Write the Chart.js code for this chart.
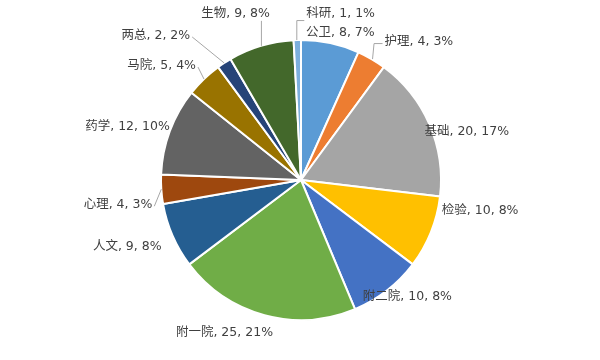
<!DOCTYPE html>
<html>
<head>
<meta charset="utf-8">
<script src="https://cdn.jsdelivr.net/npm/chart.js@4.4.0/dist/chart.umd.min.js"></script>
<style>
html,body{margin:0;padding:0;background:#fff;}
#wrap{width:600px;height:360px;}
</style>
</head>
<body>
<div id="wrap"><canvas id="c" width="600" height="360"></canvas></div>
<script>
const categories = ['公卫','护理','基础','检验','附二院','附一院','人文','心理','药学','马院','两总','生物','科研'];
const values = [8,4,20,10,10,25,9,4,12,5,2,9,1];
const colors = ['#5B9BD5','#ED7D31','#A5A5A5','#FFC000','#4472C4','#70AD47','#255E91','#9E480E','#636363','#997300','#264478','#43682B','#7CAFDD'];

// label layout: alignment and offset from the slice's outer edge midpoint, leader line type
const labelLayout = [
  {align:'center', dx:10,  dy:-10, leader:null},
  {align:'left',   dx:13,  dy:-17, leader:'elbowUp'},
  {align:'left',   dx:-5,  dy:7,   leader:null},
  {align:'left',   dx:11,  dy:-22, leader:null},
  {align:'left',   dx:-24, dy:6,   leader:null},
  {align:'center', dx:-40, dy:18,  leader:null},
  {align:'right',  dx:-11, dy:11,  leader:null},
  {align:'right',  dx:-9,  dy:16,  leader:'straight'},
  {align:'right',  dx:0,   dy:-4,  leader:null},
  {align:'right',  dx:-8,  dy:-13, leader:'straight'},
  {align:'right',  dx:-34, dy:-27, leader:'straight'},
  {align:'right',  dx:9,   dy:-32, leader:'vertical'},
  {align:'left',   dx:9,   dy:-26, leader:'elbowUp2'}
];

const total = values.reduce((a,b)=>a+b,0);

const labelPlugin = {
  id:'outLabels',
  afterDatasetsDraw(chart){
    const ctx = chart.ctx;
    const meta = chart.getDatasetMeta(0);
    ctx.save();
    ctx.font = '12.5px "DejaVu Sans", "Noto Sans CJK SC", sans-serif';
    ctx.fillStyle = '#404040';
    ctx.textBaseline = 'middle';
    meta.data.forEach((arc, i) => {
      const p = arc.getProps(['x','y','startAngle','endAngle','outerRadius'], true);
      const mid = (p.startAngle + p.endAngle)/2;
      const ex = p.x + Math.cos(mid)*p.outerRadius;
      const ey = p.y + Math.sin(mid)*p.outerRadius;
      const L = labelLayout[i];
      const lx = ex + L.dx, ly = ey + L.dy;
      const pct = Math.round(values[i]/total*100);
      const text = categories[i] + ', ' + values[i] + ', ' + pct + '%';
      if (L.leader){
        ctx.strokeStyle = '#A6A6A6';
        ctx.lineWidth = 1;
        ctx.beginPath();
        if (L.leader === 'straight'){
          const tx = L.align==='right' ? lx+2 : lx-2;
          ctx.moveTo(ex, ey); ctx.lineTo(tx, ly+1);
        } else if (L.leader === 'vertical'){
          ctx.moveTo(ex+0.5, ey); ctx.lineTo(ex+0.5, ly+7);
        } else if (L.leader === 'elbowUp'){
          ctx.moveTo(ex+1, ey); ctx.lineTo(ex+2.5, ly+1.5); ctx.lineTo(lx-2, ly+1.5);
        } else if (L.leader === 'elbowUp2'){
          ctx.moveTo(ex-0.5, ey); ctx.lineTo(ex-0.5, ly+6.5); ctx.lineTo(lx-2, ly+6.5);
        }
        ctx.stroke();
      }
      ctx.textAlign = L.align;
      ctx.fillText(text, lx, ly);
    });
    ctx.restore();
  }
};

new Chart(document.getElementById('c'), {
  type:'pie',
  data:{
    labels:categories,
    datasets:[{
      data:values,
      backgroundColor:colors,
      borderColor:'#ffffff',
      borderWidth:2
    }]
  },
  options:{
    responsive:false,
    animation:false,
    layout:{padding:{top:39,bottom:39,left:41,right:39}},
    plugins:{legend:{display:false},tooltip:{enabled:false}}
  },
  plugins:[labelPlugin]
});
</script>
</body>
</html>
